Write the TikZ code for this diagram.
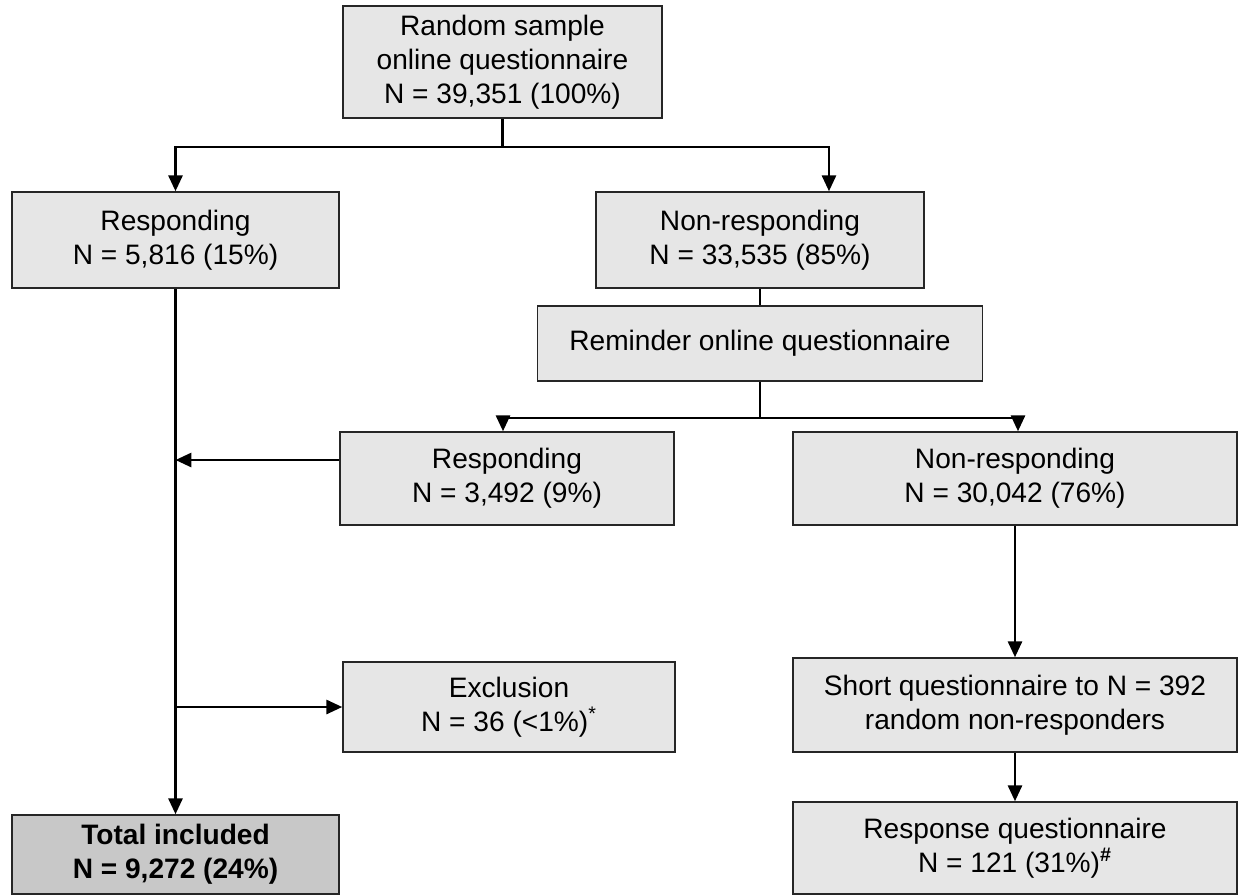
\documentclass[tikz,border=0pt]{standalone}
\usepackage{fontspec}
\setmainfont{Liberation Sans}
\usetikzlibrary{arrows.meta}

\definecolor{boxgray}{RGB}{230,230,230}
\definecolor{totalgray}{RGB}{200,200,200}

\begin{document}
\begin{tikzpicture}[> = {Triangle[length = 9pt, width = 8pt]}, x = 0.02cm, y = -0.02cm,
	box/.style = {draw = black!85, line width = 0.9pt, fill = boxgray, align = center, inner sep = 0pt, font = \fontsize{16}{19.3}\selectfont},
	totalbox/.style = {box, fill = totalgray, font = \fontsize{16}{19.3}\selectfont\bfseries},
	flow/.style = {line width = 1.4pt}]

	\useasboundingbox (0, 0) rectangle (1238, 894);

	% First round
	
	\node [box, minimum width = 6.38cm, minimum height = 2.24cm] (sample) at (502.5, 62) {Random sample\\online questionnaire\\N = 39,351 (100\%)};
	\node [box, minimum width = 6.54cm, minimum height = 1.92cm] (resp1) at (175.5, 240) {Responding\\N = 5,816 (15\%)};
	\node [box, minimum width = 6.56cm, minimum height = 1.92cm] (nonresp1) at (760, 240) {Non-responding\\N = 33,535 (85\%)};
	
	% Reminder
	
	\node [box, minimum width = 8.9cm, minimum height = 1.5cm] (remind) at (760, 343.5) {Reminder online questionnaire};
	\node [box, minimum width = 6.68cm, minimum height = 1.86cm] (resp2) at (507, 478.5) {Responding\\N = 3,492 (9\%)};
	\node [box, minimum width = 8.88cm, minimum height = 1.86cm] (nonresp2) at (1015, 478.5) {Non-responding\\N = 30,042 (76\%)};
	
	% Exclusion and non-responders
	
	\node [box, minimum width = 6.64cm, minimum height = 1.8cm] (excl) at (509, 707) {Exclusion\\N = 36 (<1\%)\textsuperscript{*}};
	\node [box, minimum width = 8.88cm, minimum height = 1.88cm] (short) at (1015, 705) {Short questionnaire to N = 392\\random non-responders};
	
	% Results
	
	\node [totalbox, minimum width = 6.54cm, minimum height = 1.58cm] (total) at (175.5, 854.5) {Total included\\N = 9,272 (24\%)};
	\node [box, minimum width = 8.88cm, minimum height = 1.84cm] (response) at (1015, 848) {Response questionnaire\\N = 121 (31\%)\textsuperscript{\textbf{\#}}};
	
	% Connectors
	
	\coordinate (split1) at (502.5, 147);
	\coordinate (split2) at (760, 418);
	\coordinate (join) at ([yshift = 0.37cm]resp2.west);
	
	\draw [flow] (sample) -- (split1);
	\draw [flow, ->] (split1) -| (resp1);
	\draw [flow, ->] (split1) -| ([xshift = 1.38cm]nonresp1.north);
	\draw [flow] (nonresp1) -- (remind);
	\draw [flow] (remind) -- (split2);
	\draw [flow, ->] (split2) -| ([xshift = -0.08cm]resp2.north);
	\draw [flow, ->] (split2) -| ([xshift = 0.06cm]nonresp2.north);
	\draw [flow, ->] (join) -- (join -| resp1.south);
	\draw [flow, ->] (resp1) -- (total);
	\draw [flow, ->] (resp1 |- excl.west) -- (excl);
	\draw [flow, ->] (nonresp2) -- (short);
	\draw [flow, ->] (short) -- (response);

\end{tikzpicture}
\end{document}
